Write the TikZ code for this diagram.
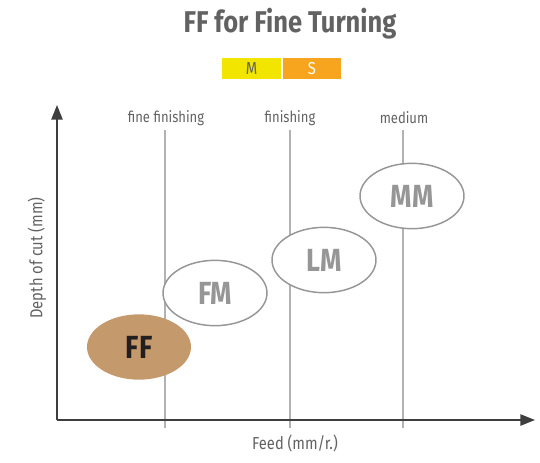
\documentclass[tikz,border=0pt]{standalone}
\usepackage{fontspec}
\setmainfont{Fira Sans}[FakeStretch=0.85]
\usetikzlibrary{arrows.meta,shapes.geometric}

\definecolor{axisgray}{RGB}{62,62,62}
\definecolor{textgray}{RGB}{98,98,98}
\definecolor{linegray}{RGB}{178,178,178}
\definecolor{ringgray}{RGB}{150,150,150}
\definecolor{ffbrown}{RGB}{196,153,108}
\definecolor{myellow}{RGB}{242,229,0}
\definecolor{sorange}{RGB}{247,165,30}

\tikzset{every picture/.style={line width=0.75pt}}
\tikzset{
	axis/.style={draw=axisgray, line width=1.1pt, -{Triangle[length=11pt,width=8.5pt]}},
	gridline/.style={draw=linegray, line width=0.8pt},
	toplabel/.style={text=textgray, font=\fontsize{11.5}{13}\selectfont, inner sep=0.75pt},
	axislabel/.style={text=textgray, font=\fontsize{13}{15}\selectfont, inner sep=0.75pt},
	grade/.style={ellipse, draw=ringgray, line width=1.1pt, fill=white, minimum width=78pt, minimum height=49pt, inner sep=0pt, text=ringgray, font=\bfseries\fontsize{24}{26}\selectfont},
	tagbox/.style={minimum width=44pt, minimum height=15.5pt, inner sep=0pt, font=\fontsize{13}{15}\selectfont}
}

\begin{document}
\begin{tikzpicture}[x=0.75pt,y=0.75pt,yscale=-1,xscale=1]
	\path[use as bounding box] (0,0) rectangle (540,462);

	% Title
	\node (title) [anchor=base, text=textgray, font=\bfseries\fontsize{22.5}{26}\selectfont, inner sep=0pt] at (290,32) {FF for Fine Turning};
	% Tag boxes
	\node (tagm) [tagbox, fill=myellow, text=textgray] at (251.5,68.5) {M};
	\node (tags) [tagbox, fill=sorange, text=white] at (312,68.5) {S};

	% Range labels
	\node (lfine) [toplabel] at (166,118) {fine finishing};
	\node (lfin) [toplabel] at (290,118) {finishing};
	\node (lmed) [toplabel] at (404,118) {medium};

	% Grid lines
	\coordinate (g1t) at (165,130); \coordinate (g1b) at (165,428);
	\coordinate (g2t) at (290,130); \coordinate (g2b) at (290,428);
	\coordinate (g3t) at (403,130); \coordinate (g3b) at (403,428);
	\draw[gridline] (g1t) -- (g1b);
	\draw[gridline] (g2t) -- (g2b);
	\draw[gridline] (g3t) -- (g3b);

	% Axes
	\coordinate (o) at (57,420);
	\coordinate (ytip) at (57,105);
	\coordinate (xtip) at (535,420);
	\draw[axis] (o) -- (ytip);
	\draw[axis] (o) -- (xtip);

	% Axis labels
	\node (ylab) [axislabel, rotate=90] at (37,258) {Depth of cut (mm)};
	\node (xlab) [axislabel] at (295,443) {Feed (mm/r.)};

	%Shape: Ellipse
	\node (mm) [grade] at (412,196) {MM};
	\node (lm) [grade] at (324,260) {LM};
	\node (fm) [grade] at (215,293) {FM};
	\node (ff) [grade, draw=none, fill=ffbrown, text={rgb,255:red,35;green,31;blue,32}] at (139,347) {FF};
\end{tikzpicture}
\end{document}
